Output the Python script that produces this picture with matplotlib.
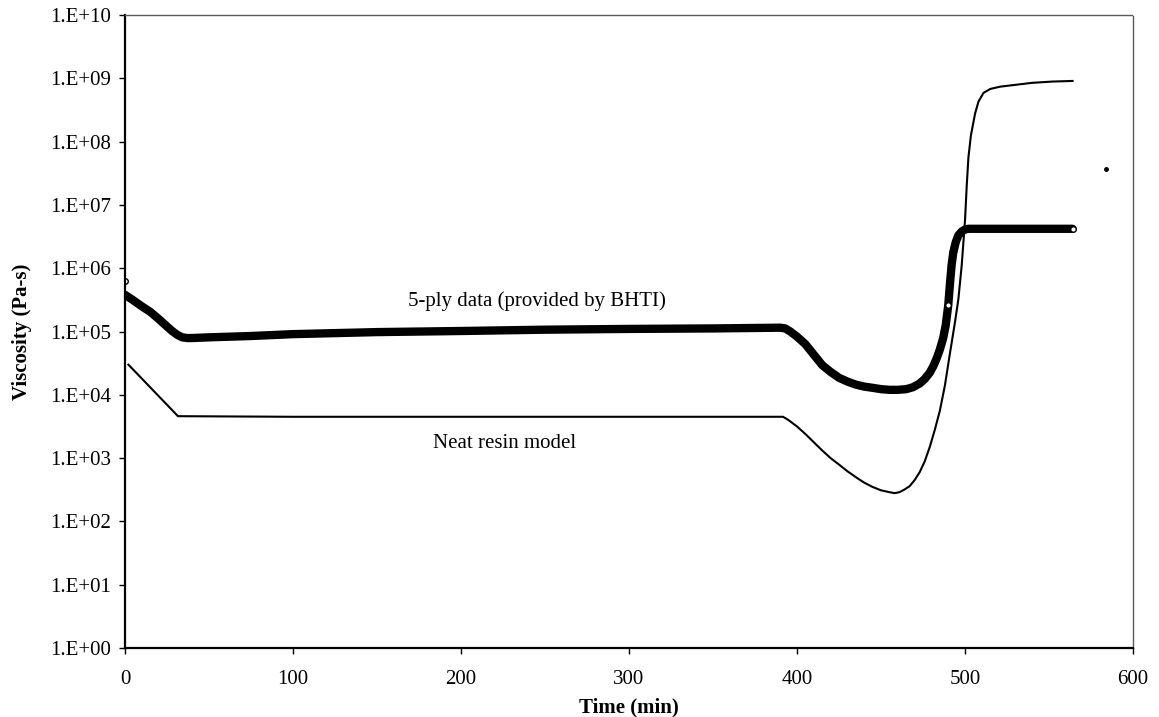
import matplotlib
matplotlib.use("Agg")
import matplotlib.pyplot as plt
from matplotlib.ticker import FixedLocator, FixedFormatter, NullLocator

# данные 5-слойного образца (BHTI): время, мин / вязкость, Па·с
ply_time = [0, 5, 10, 15, 20, 25, 28, 31, 34, 37, 40, 50, 75, 100, 150, 200, 250, 300, 350,
            390, 393, 396, 400, 405, 410, 415, 420, 425, 430, 435, 440, 445, 450, 455, 460,
            465, 469, 473, 476, 479, 481, 483, 485, 487, 488.5, 490, 491, 492, 493, 494.5,
            496, 498, 500, 502, 520, 540, 564]
ply_visc = [3.8e5, 3.1e5, 2.5e5, 2.05e5, 1.58e5, 1.2e5, 1.02e5, 8.9e4, 8.1e4, 7.9e4, 7.9e4,
            8.1e4, 8.5e4, 9.1e4, 9.8e4, 1.02e5, 1.07e5, 1.10e5, 1.12e5,
            1.15e5, 1.12e5, 1.0e5, 8.3e4, 6.3e4, 4.3e4, 2.95e4, 2.3e4, 1.86e4, 1.62e4, 1.45e4,
            1.35e4, 1.29e4, 1.23e4, 1.2e4, 1.2e4,
            1.23e4, 1.32e4, 1.51e4, 1.78e4, 2.24e4, 2.8e4, 3.7e4, 5.2e4, 7.9e4, 1.26e5,
            2.6e5, 5.6e5, 1.12e6, 1.78e6, 2.6e6,
            3.3e6, 3.8e6, 4.1e6, 4.2e6, 4.2e6, 4.2e6, 4.2e6]

# отдельные маркеры (пустые кружки) на кривой 5-ply
marker_time = [0, 490, 564]
marker_visc = [6.2e5, 2.6e5, 4.2e6]

# модель чистой смолы
neat_time = [2, 31.5, 100, 200, 300, 391.7, 395, 400, 405, 410, 415, 420, 425, 430, 436, 440,
             445, 450, 455, 458, 461, 464, 467, 470, 473, 476, 479, 482, 485, 488, 491, 494,
             496, 498, 500, 501, 502, 503.5, 506, 508, 511, 515, 521, 530, 540, 552, 564]
neat_visc = [3.0e4, 4.6e3, 4.5e3, 4.5e3, 4.5e3, 4.5e3, 3.98e3, 3.16e3, 2.4e3, 1.78e3, 1.32e3,
             1.0e3, 7.9e2, 6.2e2, 4.8e2, 4.1e2,
             3.5e2, 3.1e2, 2.9e2, 2.8e2, 2.9e2, 3.2e2, 3.6e2, 4.5e2, 6.0e2, 8.9e2, 1.5e3,
             2.8e3, 5.6e3, 1.4e4, 4.5e4, 1.4e5,
             3.2e5, 1.1e6, 5.8e6, 2.0e7, 5.6e7, 1.26e8, 2.8e8, 4.3e8, 5.9e8, 6.8e8, 7.4e8,
             7.9e8, 8.5e8, 8.9e8, 9.1e8]

# случайная точка на скане
stray_time = [584]
stray_visc = [3.7e7]

y_exponents = list(range(0, 11))  # декады оси Y
x_ticks = [0, 100, 200, 300, 400, 500, 600]

plt.rcParams["font.family"] = ["Liberation Serif", "DejaVu Serif"]

fig = plt.figure(figsize=(11.59, 7.17), dpi=100, facecolor="white")
ax = fig.add_axes([0.1079, 0.0962, 0.8697, 0.8828])

ax.plot(ply_time, ply_visc, color="black", linewidth=6.0, solid_capstyle="round",
        solid_joinstyle="round")
ax.plot(neat_time, neat_visc, color="black", linewidth=1.5, solid_joinstyle="round")
ax.plot(marker_time, marker_visc, linestyle="none", marker="o", markersize=4,
        markerfacecolor="white", markeredgecolor="black", markeredgewidth=1.0)
ax.plot(stray_time, stray_visc, linestyle="none", marker="o", markersize=2.5, color="black")

ax.set_yscale("log")
ax.set_xlim(0, 600)
ax.set_ylim(1, 1e10)

y_ticks = [10.0 ** k for k in y_exponents]
ax.yaxis.set_major_locator(FixedLocator(y_ticks))
ax.yaxis.set_major_formatter(FixedFormatter([f"1.E+{k:02d}" for k in y_exponents]))
ax.yaxis.set_minor_locator(NullLocator())
ax.set_xticks(x_ticks)
ax.set_xticklabels([str(v) for v in x_ticks])

ax.tick_params(axis="y", direction="out", length=4, width=1.0, labelsize=15, pad=6)
ax.tick_params(axis="x", direction="out", length=4, width=1.0, labelsize=15, pad=12)

ax.set_xlabel("Time (min)", fontsize=15, fontweight="bold", labelpad=6)
ax.set_ylabel("Viscosity (Pa-s)", fontsize=15, fontweight="bold", labelpad=13)

for side in ["left", "bottom"]:
    ax.spines[side].set_linewidth(1.6)
    ax.spines[side].set_color("black")
for side in ["top", "right"]:
    ax.spines[side].set_linewidth(1.0)
    ax.spines[side].set_color("0.35")
    ax.spines[side].set_linestyle((0, (2, 1)))

ax.text(245, 3.0e5, "5-ply data (provided by BHTI)", fontsize=15, ha="center", va="center")
ax.text(226, 1.7e3, "Neat resin model", fontsize=15, ha="center", va="center")

fig.savefig("out.png", dpi=100, facecolor="white")
plt.close(fig)
